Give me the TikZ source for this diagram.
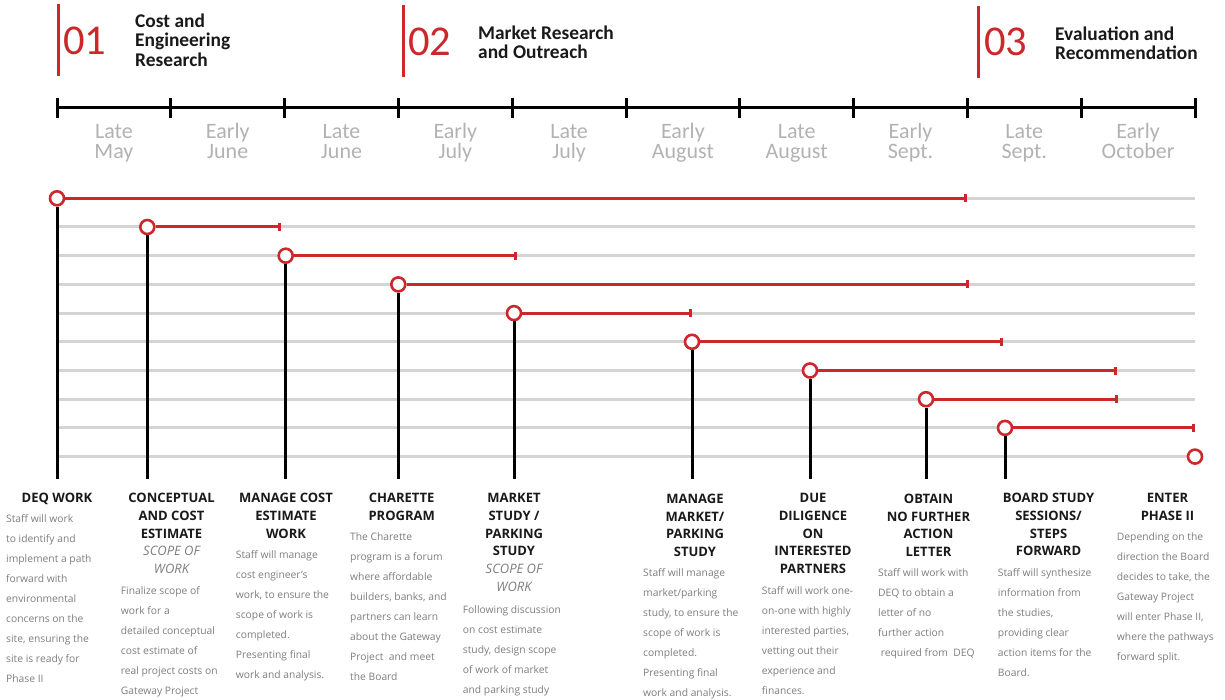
\documentclass[tikz,border=0pt]{standalone}
\usepackage{fontspec}
\setmainfont{Open Sans}
\newfontfamily\headfont{Carlito}
\usetikzlibrary{arrows.meta}

\definecolor{accent}{RGB}{204,40,44}
\definecolor{rowgray}{RGB}{212,212,212}
\definecolor{monthgray}{RGB}{178,178,178}
\definecolor{bodygray}{RGB}{125,125,125}
\definecolor{ink}{RGB}{25,25,25}
\newcommand{\scopeline}[1]{{\mdseries\itshape\color{bodygray}#1}}

\begin{document}
\begin{tikzpicture}[x=1pt, y=-1pt,
        row/.style={rowgray, line width=3pt},
        axis/.style={black, line width=3pt},
        stem/.style={black, line width=3pt},
        span/.style={accent, line width=3pt, -{Bar[width=8pt]}},
        dot/.style={circle, draw=accent, line width=2.6pt, fill=white, minimum size=14pt, inner sep=0pt},
        num/.style={anchor=base west, inner sep=0pt, text=accent, font=\headfont\fontsize{42.5}{42.5}\selectfont},
        phase/.style={anchor=base west, align=left, inner sep=0pt, text=ink, font=\headfont\bfseries\fontsize{19.4}{19.4}\selectfont},
        month/.style={anchor=base, align=center, inner sep=0pt, text=monthgray, font=\headfont\fontsize{22}{20}\selectfont},
        title/.style={anchor=base, align=center, inner sep=0pt, text=ink, font=\bfseries\fontsize{13}{17.7}\selectfont},
        body/.style={anchor=base west, align=left, inner sep=0pt, text=bodygray, font=\fontsize{10.3}{20}\selectfont}
    ]
    \useasboundingbox (0,0) rectangle (1225,700);

    % phase headers, placed by the baseline of their last line
    \draw[accent, line width=3pt] (58,4) -- (58,76);
    \draw[accent, line width=3pt] (403.5,5) -- (403.5,77);
    \draw[accent, line width=3pt] (978.3,5.7) -- (978.3,78);
    \node[num] (n1) at (63,55) {01};
    \node[num] (n2) at (408,56) {02};
    \node[num] (n3) at (984,56) {03};
    \node[phase] (p1) at (135,66.1) {Cost and\\Engineering\\Research};
    \node[phase] (p2) at (478,58.9) {Market Research\\and Outreach};
    \node[phase] (p3) at (1055,59.5) {Evaluation and\\Recommendation};

    \draw[axis] (57,108) -- (1195,108);
    \foreach \i in {0,...,10}
        \draw[axis] (57+113.8*\i,98) -- (57+113.8*\i,118);
    \foreach \m [count=\i from 0] in {Late\\May, Early\\June, Late\\June, Early\\July, Late\\July,
            Early\\August, Late\\August, Early\\Sept., Late\\Sept., Early\\October}
        \node[month] (m\i) at (113.9+113.8*\i,159) {\m};

    \foreach \r in {0,...,9}
        \draw[row] (57,198.3+28.7*\r) -- (1195,198.3+28.7*\r);

    \node[dot] (deq) at (57,198.3) {};
    \node[dot] (cce) at (147.3,227) {};
    \node[dot] (mce) at (285.7,255.7) {};
    \node[dot] (char) at (398.3,284.4) {};
    \node[dot] (mkt) at (514,313.1) {};
    \node[dot] (mmp) at (692,341.8) {};
    \node[dot] (due) at (810,370.5) {};
    \node[dot] (nfa) at (926,399.2) {};
    \node[dot] (bss) at (1005,427.9) {};
    \node[dot] (ph2) at (1195,456.6) {};

    \coordinate (deq-end) at (967,198.3);
    \coordinate (cce-end) at (281,227);
    \coordinate (mce-end) at (517,255.7);
    \coordinate (char-end) at (969.3,284.4);
    \coordinate (mkt-end) at (692,313.1);
    \coordinate (mmp-end) at (1003,341.8);
    \coordinate (due-end) at (1117.3,370.5);
    \coordinate (nfa-end) at (1117.7,399.2);
    \coordinate (bss-end) at (1195,427.9);

    \foreach \n in {deq,cce,mce,char,mkt,mmp,due,nfa,bss} {
        \draw[span] (\n) -- (\n-end);
        \draw[stem] (\n) -- (\n |- 0,479);
    }

    \node[title] (deq-t) at (57,502.8) {DEQ WORK};
    \node[body] (deq-b) at (6,682.5) {Staff will work\\to identify and\\implement a path\\forward with\\environmental\\concerns on the\\site, ensuring the\\site is ready for\\Phase II};

    \node[title] (cce-t) at (171.5,573.6) {CONCEPTUAL\\AND COST\\ESTIMATE\\\scopeline{SCOPE OF}\\\scopeline{WORK}};
    \node[body] (cce-b) at (120.7,694) {Finalize scope of\\work for a\\detailed conceptual\\cost estimate of\\real project costs on\\Gateway Project};

    \node[title] (mce-t) at (286,538.2) {MANAGE COST\\ESTIMATE\\WORK};
    \node[body] (mce-b) at (235.7,678) {Staff will manage\\cost engineer’s\\work, to ensure the\\scope of work is\\completed.\\Presenting final\\work and analysis.};

    \node[title] (char-t) at (401.7,520.5) {CHARETTE\\PROGRAM};
    \node[body] (char-b) at (350,680) {The Charette\\program is a forum\\where affordable\\builders, banks, and\\partners can learn\\about the Gateway\\Project\ \ and meet\\the Board};

    \node[title] (mkt-t) at (514,591.3) {MARKET\\STUDY /\\PARKING\\STUDY\\\scopeline{SCOPE OF}\\\scopeline{WORK}};
    \node[body] (mkt-b) at (462.7,693) {Following discussion\\on cost estimate\\study, design scope\\of work of market\\and parking study};

    \node[title] (mmp-t) at (695,556.6) {MANAGE\\MARKET/\\PARKING\\STUDY};
    \node[body] (mmp-b) at (643,696.5) {Staff will manage\\market/parking\\study, to ensure the\\scope of work is\\completed.\\Presenting final\\work and analysis.};

    \node[title] (due-t) at (813,573.6) {DUE\\DILIGENCE\\ON\\INTERESTED\\PARTNERS};
    \node[body] (due-b) at (761.7,694.5) {Staff will work one-\\on-one with highly\\interested parties,\\vetting out their\\experience and\\finances.};

    \node[title] (nfa-t) at (928.5,556.6) {OBTAIN\\NO FURTHER\\ACTION\\LETTER};
    \node[body] (nfa-b) at (878,656.5) {Staff will work with\\DEQ to obtain a\\letter of no\\further action\\\ required from\ \ DEQ};

    \node[title] (bss-t) at (1048.5,555.9) {BOARD STUDY\\SESSIONS/\\STEPS\\FORWARD};
    \node[body] (bss-b) at (997.7,676.5) {Staff will synthesize\\information from\\the studies,\\providing clear\\action items for the\\Board.};

    \node[title] (ph2-t) at (1167.5,520.5) {ENTER\\PHASE II};
    \node[body] (ph2-b) at (1116.7,660) {Depending on the\\direction the Board\\decides to take, the\\Gateway Project\\will enter Phase II,\\where the pathways\\forward split.};
\end{tikzpicture}
\end{document}
